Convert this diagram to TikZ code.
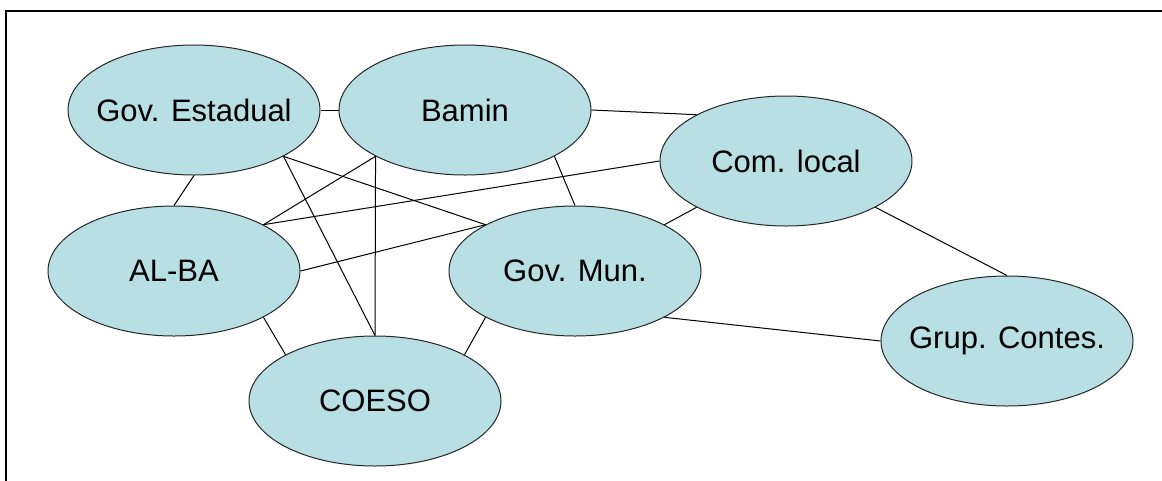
\documentclass[tikz,border=0pt]{standalone}
\usepackage{fontspec}
\setmainfont{Liberation Sans}
\usepackage{xcolor}
\usepackage{tikz}
\usetikzlibrary{shapes}
\usetikzlibrary{positioning}

\definecolor{agentblue}{RGB}{184,223,227}
\newcommand{\agent}[1]{\makebox[0pt]{#1}}

\begin{document}
\begin{tikzpicture}[x=1pt,y=-1pt]
    \useasboundingbox (0,0) rectangle (1162,480);
    \draw[line width=2pt] (6,490) -- (6,11) -- (1170,11);
    \begin{scope}[every node/.style={ellipse,draw=black!85,line width=1pt,fill=agentblue,
        minimum width=252pt,minimum height=130pt,inner sep=0pt,
        font=\fontsize{31}{36}\selectfont}]
    \node (gest) at (194,110) {\agent{Gov. Estadual}};
    \node (bamin) at (465,110) {\agent{Bamin}};
    \node (coml) at (786,161) {\agent{Com. local}};
    \node (alba) at (174,271) {\agent{AL-BA}};
    \node (gmun) at (575,271) {\agent{Gov. Mun.}};
    \node (coeso) at (375,401) {\agent{COESO}};
    \node (grup) at (1007,341) {\agent{Grup. Contes.}};
    \end{scope}
    \begin{scope}[every edge/.style={draw=black,line width=1pt}]
    \path (gest.east) edge (bamin.west);
    \path (gest.south) edge (alba.north);
    \path (gest.south east) edge (coeso.north);
    \path (gest.south east) edge (gmun.north west);
    \path (bamin.south west) edge (alba.north east);
    \path (bamin.south west) edge (coeso.north);
    \path (bamin.south east) edge (gmun.north);
    \path (bamin.east) edge (coml.north west);
    \path (coml.west) edge (alba.north east);
    \path (coml.south west) edge (gmun.north east);
    \path (coml.south east) edge (grup.north);
    \path (alba.east) edge (gmun.north west);
    \path (alba.south east) edge (coeso.north west);
    \path (gmun.south west) edge (coeso.north east);
    \path (gmun.south east) edge (grup.west);
    \end{scope}
\end{tikzpicture}
\end{document}
